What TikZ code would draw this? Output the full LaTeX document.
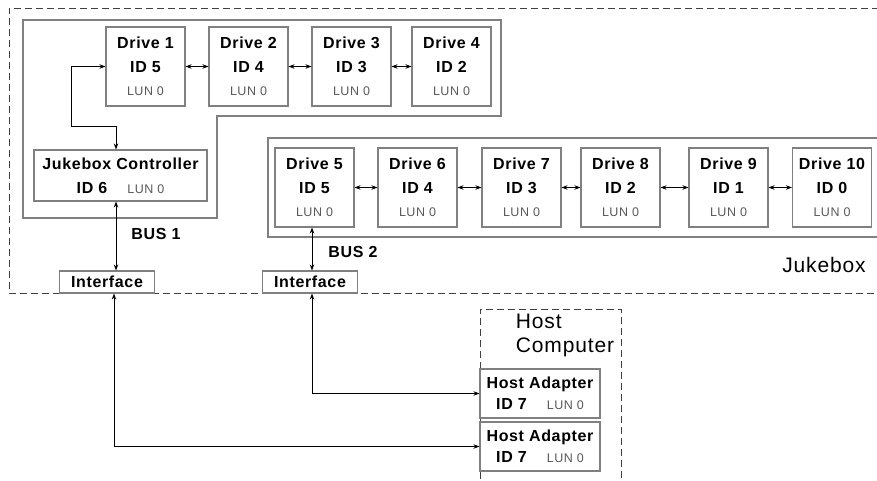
\documentclass[tikz,border=0pt]{standalone}
\usepackage{fontspec}
\setmainfont{Liberation Sans}[LetterSpace=4]
\usetikzlibrary{arrows.meta, positioning}

\definecolor{boxgray}{gray}{0.5}
\definecolor{lungray}{gray}{0.35}
\newcommand\lunfont{\fontsize{12.5}{14}\selectfont\mdseries\color{lungray}}

\begin{document}
\begin{tikzpicture}[
    x=1pt, y=-1pt,
    >={Stealth[length=6pt, width=4.5pt]},
    on grid,
    unit/.style={draw=boxgray, line width=1.1pt, inner sep=0pt, align=center,
        font=\fontsize{16}{23.5}\selectfont\bfseries},
    drive/.style={unit, minimum width=79pt, minimum height=79pt},
    adapter/.style={unit, minimum width=120pt, minimum height=49pt,
        font=\fontsize{16}{21}\selectfont\bfseries},
    iface/.style={unit, minimum width=95pt, minimum height=22pt},
    label/.style={font=\fontsize{16}{20}\selectfont\bfseries},
    title/.style={font=\fontsize{21}{24}\selectfont, align=left},
    bus/.style={<->, line width=0.8pt},
    group/.style={draw=boxgray, line width=1.1pt},
    frame/.style={draw=black!75, line width=0.8pt, dash pattern=on 7pt off 4pt},
]
\useasboundingbox (0,0) rectangle (877,481);

    % enclosures
    \draw[frame] (890,8) -| (9,293) -- (890,293);
    \draw[frame] (480,490) |- (621,309) -- (621,490);
    \draw[group] (23,20) -- (501,20) -- (501,116) -- (217,116) -- (217,218) -- (23,218) -- cycle;
    \draw[group] (890,138) -| (268,237) -- (890,237);

    % bus 1
    \node[drive] (D1) at (145.5,66.5) {Drive 1\\ID 5\\{\lunfont LUN 0}};
    \node[drive, right=103pt of D1] (D2) {Drive 2\\ID 4\\{\lunfont LUN 0}};
    \node[drive, right=103pt of D2] (D3) {Drive 3\\ID 3\\{\lunfont LUN 0}};
    \node[drive, right=100pt of D3] (D4) {Drive 4\\ID 2\\{\lunfont LUN 0}};
    \node[unit, minimum width=173pt, minimum height=51pt, font=\fontsize{16}{24}\selectfont\bfseries]
        (JC) at (120.5,175.5) {Jukebox Controller\\ID 6\hspace{20pt}{\lunfont LUN 0}};

    % bus 2
    \node[drive] (D5) at (314.5,187.5) {Drive 5\\ID 5\\{\lunfont LUN 0}};
    \node[drive, right=103pt of D5] (D6) {Drive 6\\ID 4\\{\lunfont LUN 0}};
    \node[drive, right=104pt of D6] (D7) {Drive 7\\ID 3\\{\lunfont LUN 0}};
    \node[drive, right=99pt of D7]  (D8) {Drive 8\\ID 2\\{\lunfont LUN 0}};
    \node[drive, right=108pt of D8] (D9) {Drive 9\\ID 1\\{\lunfont LUN 0}};
    \node[drive, right=103.5pt of D9] (D10) {Drive 10\\ID 0\\{\lunfont LUN 0}};

    \node[iface] (IF1) at (107,282) {Interface};
    \node[iface] (IF2) at (310,282) {Interface};

    \node[label] (B1) at (156,234) {BUS 1};
    \node[label] (B2) at (353,252) {BUS 2};
    \node[title] (JB) at (824,265) {Jukebox};

    % host
    \node[title] (HC) at (565,335) {Host\\Computer};
    \node[adapter] (HA1) at (540,393.5) {Host Adapter\\ID 7\hspace{20pt}{\lunfont LUN 0}};
    \node[adapter] (HA2) at (540,446.5) {Host Adapter\\ID 7\hspace{20pt}{\lunfont LUN 0}};

    \coordinate (hook) at (71,126);

    \path[bus]
        (D1) edge (D2)
        (D2) edge (D3)
        (D3) edge (D4)
        (D5) edge (D6)
        (D6) edge (D7)
        (D7) edge (D8)
        (D8) edge (D9)
        (D9) edge (D10)
    ;
    \draw[bus] (D1.west) -| (hook) -| ([xshift=-4.5pt]JC.north);
    \draw[bus] ([xshift=-4.5pt]JC.south) -- ([xshift=-4.5pt]JC.south |- IF1.north);
    \draw[bus] ([xshift=-2.5pt]D5.south) -- ([xshift=-2.5pt]D5.south |- IF2.north);
    \draw[bus] ([xshift=7pt]IF1.south) |- (HA2.west);
    \draw[bus] ([xshift=2pt]IF2.south) |- (HA1.west);
\end{tikzpicture}
\end{document}
